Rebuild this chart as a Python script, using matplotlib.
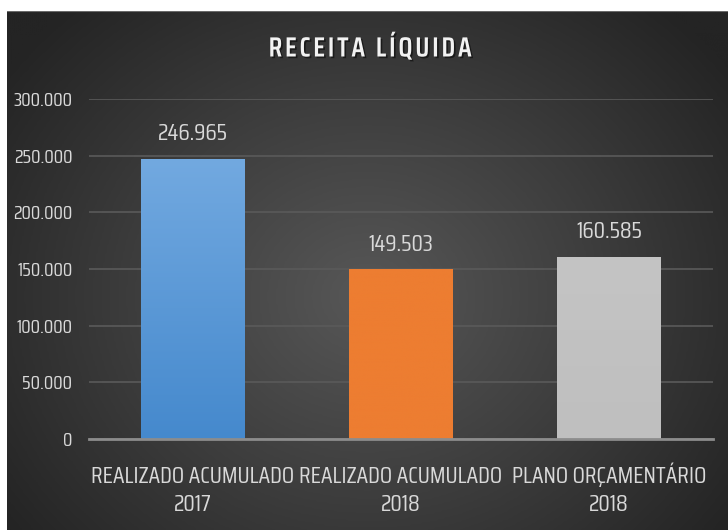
import matplotlib.pyplot as plt
import matplotlib.patheffects as pe
import numpy as np
from matplotlib.colors import LinearSegmentedColormap

categorias = ['REALIZADO ACUMULADO\n2017', 'REALIZADO ACUMULADO\n2018', 'PLANO ORÇAMENTÁRIO\n2018']
valores = [246965, 149503, 160585]
rotulos = ['246.965', '149.503', '160.585']
ticks = [0, 50000, 100000, 150000, 200000, 250000, 300000]
tick_labels = ['0', '50.000', '100.000', '150.000', '200.000', '250.000', '300.000']

plt.rcParams['font.family'] = ['Saira Condensed', 'DejaVu Sans']

W, H = 728, 530
fig = plt.figure(figsize=(W / 100, H / 100), dpi=100)
fig.patch.set_facecolor('white')

# fundo com gradiente radial (área do gráfico começa em x=7, y=11)
bg = fig.add_axes([7 / W, 0, 1 - 7 / W, 1 - 11 / H])
bg.set_axis_off()
yy, xx = np.mgrid[0:1:300j, 0:1:400j]
r = np.sqrt(((xx - 0.5) / 0.62) ** 2 + ((yy - 0.55) / 0.75) ** 2)
r = np.clip(r, 0, 1)
bgmap = LinearSegmentedColormap.from_list('bg', ['#575757', '#3e3e3e', '#242424'])
bg.imshow(r, cmap=bgmap, aspect='auto', extent=[0, 1, 0, 1], interpolation='bilinear')
bg.axhline(1, color='#6a6a6a', lw=1.5)

ax = fig.add_axes([89 / W, (H - 439) / H, (713 - 89) / W, (439 - 99) / H])
ax.patch.set_alpha(0)
x = np.arange(len(categorias))

bar_gradients = [('#4589cd', '#72a9e0'), ('#ed7d31', '#ed7d31'), ('#bfbfbf', '#c4c4c4')]
for i, v in enumerate(valores):
    c0, c1 = bar_gradients[i]
    cm = LinearSegmentedColormap.from_list('b%d' % i, [c0, c1])
    grad = np.linspace(0, 1, 256).reshape(-1, 1)
    ax.imshow(grad, cmap=cm, aspect='auto', origin='lower',
              extent=[x[i] - 0.25, x[i] + 0.25, 0, v], zorder=3)
    ax.text(x[i], v + 13000, rotulos[i], ha='center', va='bottom',
            color='#d9d9d9', fontsize=17)

ax.set_xlim(-0.5, 2.5)
ax.set_ylim(0, 300000)
ax.set_yticks(ticks)
ax.set_yticklabels(tick_labels)
ax.set_xticks(x)
ax.set_xticklabels(categorias, linespacing=1.4)
ax.tick_params(axis='y', colors='#d9d9d9', labelsize=14, length=0, pad=12)
ax.tick_params(axis='x', colors='#d9d9d9', labelsize=17, length=0, pad=52)
for lbl in ax.get_xticklabels():
    lbl.set_verticalalignment('baseline')
ax.grid(axis='y', color='#5a5a5a', lw=1.2, zorder=0)
for s in ['top', 'right', 'left']:
    ax.spines[s].set_visible(False)
ax.spines['bottom'].set_color('#8c8c8c')
ax.spines['bottom'].set_linewidth(2)
ax.spines['bottom'].set_zorder(4)

titulo = '\u200a'.join('RECEITA LÍQUIDA')
fig.text(370 / W, 1 - 48 / H, titulo, ha='center', va='center', color='#f2f2f2',
         fontsize=20, fontweight='semibold',
         path_effects=[pe.withSimplePatchShadow(offset=(1.2, -1.2), shadow_rgbFace='black', alpha=0.5)])

fig.savefig('out.png', dpi=100)
